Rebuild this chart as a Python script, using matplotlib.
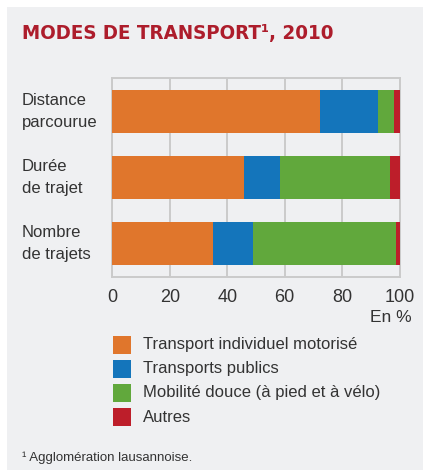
import matplotlib
matplotlib.use("Agg")
import matplotlib.pyplot as plt
import matplotlib.transforms as mtransforms
from matplotlib.patches import Rectangle

categories = ["Distance\nparcourue", "Durée\nde trajet", "Nombre\nde trajets"]
series_names = ["Transport individuel motorisé", "Transports publics",
                "Mobilité douce (à pied et à vélo)", "Autres"]
tim = [72.3, 45.8, 35.0]
tp = [20.1, 12.5, 14.0]
md = [5.6, 38.3, 49.6]
autres = [2.0, 3.4, 1.4]
series = [tim, tp, md, autres]
colors = ["#e0762c", "#1475bb", "#61a83c", "#bd1e2a"]
xticks = [0, 20, 40, 60, 80, 100]

body_font = "Liberation Sans"

BG = "#eff0f2"
TXT = "#333333"
W, H = 423, 470
fig = plt.figure(figsize=(W / 100, H / 100), dpi=100)
fig.patch.set_facecolor("white")
fig.patches.append(Rectangle((7 / W, 0), 1 - 7 / W, 1 - 7 / H, transform=fig.transFigure,
                             facecolor=BG, edgecolor="none", zorder=-5))

ax = fig.add_axes([112.3 / W, 1 - 277 / H, 287.4 / W, 199 / H])
ax.set_zorder(2)
ax.set_facecolor(BG)
ypos = list(range(len(categories)))
left = [0] * len(categories)
for vals, c, n in zip(series, colors, series_names):
    ax.barh(ypos, vals, left=left, height=0.65, color=c, label=n, zorder=3)
    left = [l + v for l, v in zip(left, vals)]
ax.set_xlim(0, 100)
ax.set_ylim(2.5, -0.5)
ax.set_xticks(xticks)
ax.set_xticklabels([str(t) for t in xticks], fontsize=13, color=TXT, family=body_font)
ax.tick_params(axis="x", length=0, pad=9)
ax.set_yticks([])
ax.grid(axis="x", color="#cacaca", linewidth=1.4, zorder=1)
for s in ax.spines.values():
    s.set_color("#cacaca")
    s.set_linewidth(1.4)

trans = mtransforms.blended_transform_factory(fig.transFigure, ax.transData)
for y, c in zip(ypos, categories):
    ax.text(22 / W, y, c, transform=trans, ha="left", va="center", fontsize=12,
            color=TXT, family=body_font, linespacing=1.6)

fig.text(412 / W, 1 - 318 / H, "En %", ha="right", va="center", fontsize=12.5,
         color=TXT, family=body_font)

t = fig.text(22 / W, 1 - 33 / H, "MODES DE TRANSPORT¹, 2010", ha="left", va="center",
             fontsize=19, fontweight="bold", color="#ad1d2c", family="DejaVu Sans",
             fontstretch="condensed")
r = fig.canvas.get_renderer()
wpx = t.get_window_extent(r).width
t.set_fontsize(19 * 311 / wpx)

for i, (n, c) in enumerate(zip(series_names, colors)):
    yc = 345 + 24 * i
    fig.patches.append(Rectangle((113 / W, 1 - (yc + 8.8) / H), 18 / W, 17.6 / H,
                                 transform=fig.transFigure, facecolor=c, edgecolor="none"))
    fig.text(143 / W, 1 - yc / H, n, ha="left", va="center", fontsize=12,
             color=TXT, family=body_font)

fig.text(22 / W, 1 - 458 / H, "¹ Agglomération lausannoise.", ha="left", va="center",
         fontsize=9.5, color=TXT, family=body_font)

fig.savefig("out.png", dpi=100, facecolor=fig.get_facecolor())
